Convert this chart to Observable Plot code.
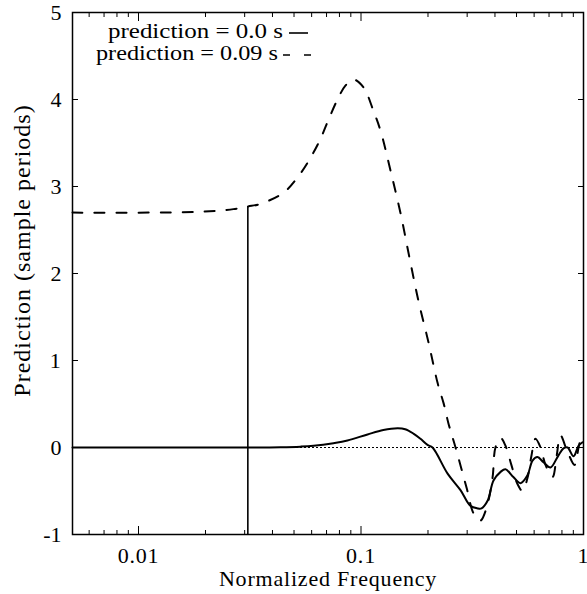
<!DOCTYPE html>
<html><head><meta charset="utf-8">
<script src="https://cdn.jsdelivr.net/npm/d3@7"></script>
<script src="https://cdn.jsdelivr.net/npm/@observablehq/plot@0.6"></script>
<style>
body{margin:0;background:#fff;}
#chart{width:587px;height:594px;}
</style></head><body>
<div id="chart"></div>
<script>
// prediction = 0.0 s (solid)
const freqSolid = [0.00505, 0.0309, 0.0435, 0.0535, 0.0612, 0.0752, 0.0869, 0.107, 0.126, 0.146, 0.158, 0.172, 0.185, 0.199, 0.2096, 0.245, 0.280, 0.310, 0.334, 0.348, 0.371, 0.394, 0.424, 0.446, 0.484, 0.521, 0.560, 0.590, 0.621, 0.661, 0.711, 0.764, 0.813, 0.848, 0.902, 0.950, 0.99];
const predSolid = [0, 0, 0.003, 0.01, 0.02, 0.05, 0.08, 0.15, 0.2, 0.22, 0.21, 0.16, 0.1, 0.03, 0, -0.30, -0.49, -0.67, -0.70, -0.70, -0.61, -0.38, -0.28, -0.25, -0.34, -0.41, -0.32, -0.15, -0.11, -0.17, -0.23, -0.11, -0.01, 0, -0.10, 0.02, 0.06];
// prediction = 0.09 s (dashed)
const freqDashed = [0.00505, 0.0113, 0.019, 0.0267, 0.0309, 0.0353, 0.0449, 0.0524, 0.0593, 0.0658, 0.0715, 0.0784, 0.0851, 0.0925, 0.1026, 0.1137, 0.1224, 0.1358, 0.1506, 0.1652, 0.181, 0.201, 0.221, 0.235, 0.247, 0.266, 0.298, 0.321, 0.344, 0.366, 0.390, 0.402, 0.424, 0.446, 0.474, 0.505, 0.532, 0.560, 0.583, 0.608, 0.641, 0.675, 0.726, 0.757, 0.788, 0.839, 0.912, 0.950, 0.979];
const predDashed = [2.70, 2.70, 2.71, 2.74, 2.77, 2.80, 2.93, 3.12, 3.33, 3.55, 3.77, 4.00, 4.16, 4.23, 4.14, 3.87, 3.64, 3.18, 2.69, 2.18, 1.69, 1.21, 0.74, 0.51, 0.28, 0, -0.46, -0.76, -0.84, -0.7, -0.35, 0.0, 0.11, 0.02, -0.2, -0.42, -0.5, -0.35, -0.1, 0.1, 0.0, -0.2, -0.34, -0.1, 0.14, -0.02, -0.2, 0.0, 0.15];
// vertical marker line
const markerFreq = [0.031];
const markerBottom = [-1];
const markerTop = [2.77];
// ticks
const xMajorTicks = [0.01, 0.1, 1];
const xMinorTicks = [0.006, 0.007, 0.008, 0.009, 0.02, 0.03, 0.04, 0.05, 0.06, 0.07, 0.08, 0.09, 0.2, 0.3, 0.4, 0.5, 0.6, 0.7, 0.8, 0.9];
const yTicks = [-1, 0, 1, 2, 3, 4, 5];
const xLabel = "Normalized Frequency";
const yLabel = "Prediction (sample periods)";
const seriesLabels = ["prediction = 0.0 s", "prediction = 0.09 s"];

const solid = freqSolid.map((f, i) => ({f, p: predSolid[i]}));
const dashed = freqDashed.map((f, i) => ({f, p: predDashed[i]}));
const marker = markerFreq.map((f, i) => ({f, y1: markerBottom[i], y2: markerTop[i]}));

const font = '"Liberation Serif", "Times New Roman", serif';
const chart = Plot.plot({
  width: 587, height: 594,
  marginLeft: 72, marginRight: 4, marginTop: 12, marginBottom: 60,
  style: {fontFamily: font, fontSize: "21px", color: "black", background: "white"},
  x: {type: "log", domain: [0.00505, 1]},
  y: {domain: [-1, 5]},
  marks: [
    Plot.ruleY([0], {stroke: "black", strokeWidth: 1.2, strokeDasharray: "2,2"}),
    Plot.ruleX(marker, {x: "f", y1: "y1", y2: "y2", stroke: "black", strokeWidth: 1.6}),
    Plot.line(dashed, {x: "f", y: "p", curve: "catmull-rom", stroke: "black", strokeWidth: 2, strokeDasharray: "10,12"}),
    Plot.line(solid, {x: "f", y: "p", curve: "catmull-rom", stroke: "black", strokeWidth: 2}),
    Plot.frame({stroke: "black", strokeWidth: 1.5}),
    Plot.axisX(xMajorTicks, {anchor: "bottom", tickSize: -8, tickFormat: () => "", label: null}),
    Plot.axisX(xMinorTicks, {anchor: "bottom", tickSize: -4, tickFormat: () => "", label: null}),
    Plot.axisX(xMajorTicks, {anchor: "top", tickSize: -8, tickFormat: () => "", label: null}),
    Plot.axisX(xMinorTicks, {anchor: "top", tickSize: -4, tickFormat: () => "", label: null}),
    Plot.axisY(yTicks, {anchor: "left", tickSize: -6, tickFormat: () => "", label: null}),
    Plot.axisY(yTicks, {anchor: "right", tickSize: -6, tickFormat: () => "", label: null}),
    Plot.text(xMajorTicks, {x: d => d, text: d => String(d), frameAnchor: "bottom", dy: 21, lineAnchor: "middle", fontSize: 22}),
    Plot.text(yTicks, {y: d => d, text: d => String(d), frameAnchor: "left", textAnchor: "end", dx: -11, lineAnchor: "middle", fontSize: 22}),
    Plot.text([xLabel], {frameAnchor: "bottom", dy: 44, lineAnchor: "middle", fontSize: 22}),
    Plot.text([yLabel], {frameAnchor: "left", dx: -50, dy: -23, rotate: -90, textAnchor: "middle", lineAnchor: "middle", fontSize: 24})
  ]
});
document.getElementById("chart").appendChild(chart);

// letter spacing to match the wider reference lettering
const svg = d3.select(chart);
svg.selectAll("text").filter(function() { return this.textContent === xLabel; }).attr("letter-spacing", "0.8px");
svg.selectAll("text").filter(function() { return this.textContent === yLabel; }).attr("letter-spacing", "1px");
svg.selectAll("text").filter(function() { return xMajorTicks.map(String).includes(this.textContent); }).attr("letter-spacing", "0.8px");

// legend (top-left inside the frame)
const leg = svg.append("g").attr("font-family", font).attr("font-size", 20).attr("fill", "black").attr("text-anchor", "start");
const rowsY = [32, 54];
const rowsLeft = [108, 96];
const rowsWidth = [175, 182];
const sampleX1 = [289, 283];
const sampleX2 = [308, 311];
const dashes = [null, "7,14"];
seriesLabels.forEach((t, i) => {
  leg.append("text").attr("x", rowsLeft[i]).attr("y", rowsY[i]).attr("dy", "0.32em").attr("text-anchor", "start")
    .attr("textLength", rowsWidth[i]).attr("lengthAdjust", "spacingAndGlyphs").text(t);
  leg.append("line").attr("x1", sampleX1[i]).attr("x2", sampleX2[i]).attr("y1", rowsY[i] + 1).attr("y2", rowsY[i] + 1)
    .attr("stroke", "black").attr("stroke-width", 1.6).attr("stroke-dasharray", dashes[i]);
});
</script>
</body></html>
